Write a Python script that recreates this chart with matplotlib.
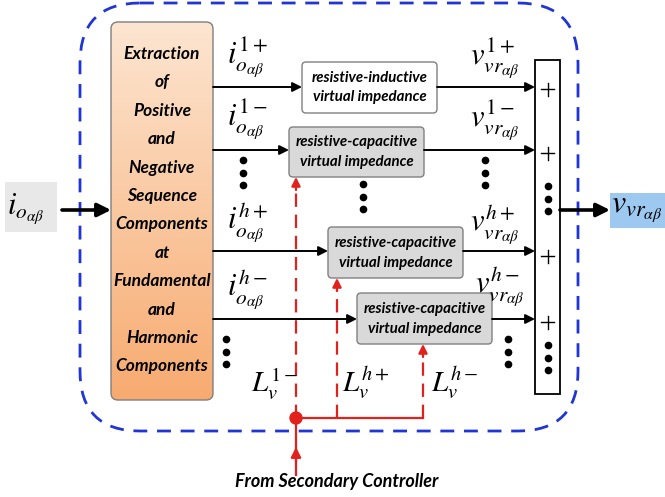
import numpy as np
import matplotlib.pyplot as plt
from matplotlib.patches import FancyBboxPatch, Rectangle, Circle

plt.rcParams['mathtext.fontset'] = 'stix'

# ---- diagram content ----
extract_words = ['Extraction', 'of', 'Positive', 'and', 'Negative', 'Sequence',
                 'Components', 'at', 'Fundamental', 'and', 'Harmonic', 'Components']
in_labels = [r'$i_{o_{\alpha\beta}}^{1+}$', r'$i_{o_{\alpha\beta}}^{1-}$',
             r'$i_{o_{\alpha\beta}}^{h+}$', r'$i_{o_{\alpha\beta}}^{h-}$']
out_labels = [r'$v_{vr_{\alpha\beta}}^{1+}$', r'$v_{vr_{\alpha\beta}}^{1-}$',
              r'$v_{vr_{\alpha\beta}}^{h+}$', r'$v_{vr_{\alpha\beta}}^{h-}$']
box_line1 = ['resistive-inductive', 'resistive-capacitive',
             'resistive-capacitive', 'resistive-capacitive']
box_line2 = ['virtual impedance'] * 4
box_fill = ['white', '#d9d9d9', '#d9d9d9', '#d9d9d9']
l_labels = [r'$L_v^{1-}$', r'$L_v^{h+}$', r'$L_v^{h-}$']
input_label = r'$i_{o_{\alpha\beta}}$'
output_label = r'$v_{vr_{\alpha\beta}}$'
bottom_label = 'From Secondary Controller'

# layout (pixel coords)
row_y = [87, 150, 251, 319]
box_x0 = [302, 289, 328, 357]
box_x1 = [437, 424, 463, 492]
box_top = [62, 127, 227, 293]
box_bot = [113, 177, 278, 344]
plus_y = [89, 153, 256, 322]
ctrl_x = [296, 337, 423]
ctrl_box = [1, 2, 3]

red = '#e3211c'
blue = '#1f35d6'
font = 'Lato'

fig = plt.figure(figsize=(6.65, 4.97), dpi=100)
ax = fig.add_axes([0, 0, 1, 1])
ax.set_xlim(0, 665)
ax.set_ylim(497, 0)
ax.axis('off')


def arrow(x0, y0, x1, y1, color='black', lw=1.4, ms=14):
    ax.annotate('', xy=(x1, y1), xytext=(x0, y0),
                arrowprops=dict(arrowstyle='-|>', color=color, lw=lw,
                                mutation_scale=ms, shrinkA=0, shrinkB=0))


def dots(x, y0, step=12.5):
    ax.plot([x] * 3, [y0 + i * step for i in range(3)], 'o', color='black',
            markersize=4.5, zorder=5)


# blue dashed outer boundary
outer = FancyBboxPatch((80, 3), 498, 428, boxstyle='round,pad=0,rounding_size=60',
                       fill=False, edgecolor=blue, lw=2.0, linestyle=(0, (5, 3.5)))
ax.add_patch(outer)

# orange extraction block with gradient
ob = FancyBboxPatch((111, 22), 102, 378, boxstyle='round,pad=0,rounding_size=7',
                    facecolor='none', edgecolor='#7f7f7f', lw=1.0, zorder=3)
ax.add_patch(ob)
c_top = np.array([0.99, 0.90, 0.82])
c_bot = np.array([0.97, 0.67, 0.44])
t = np.linspace(0, 1, 200)[:, None, None]
grad = c_top * (1 - t) + c_bot * t
im = ax.imshow(grad, extent=(111, 213, 400, 22), origin='upper', aspect='auto', zorder=2)
im.set_clip_path(ob)
for i, w in enumerate(extract_words):
    ax.text(162, 54 + i * 28.4, w, ha='center', va='center', fontsize=12.5,
            fontweight='bold', fontstyle='italic', family=font, zorder=4)

# input
ax.add_patch(Rectangle((5, 182), 52, 50, facecolor='#e8e8e8', edgecolor='none'))
ax.text(7, 209, input_label, ha='left', va='center', fontsize=22)
arrow(62, 210, 111, 210, lw=2.6, ms=20)

# rows
for k in range(4):
    arrow(213, row_y[k], box_x0[k], row_y[k])
    ax.add_patch(FancyBboxPatch((box_x0[k], box_top[k]), box_x1[k] - box_x0[k],
                                box_bot[k] - box_top[k],
                                boxstyle='round,pad=0,rounding_size=4',
                                facecolor=box_fill[k], edgecolor='#808080', lw=1.0))
    cx = (box_x0[k] + box_x1[k]) / 2
    cy = (box_top[k] + box_bot[k]) / 2
    ax.text(cx, cy - 10, box_line1[k], ha='center', va='center', fontsize=10.8,
            fontweight='bold', fontstyle='italic', family=font)
    ax.text(cx, cy + 10, box_line2[k], ha='center', va='center', fontsize=10.8,
            fontweight='bold', fontstyle='italic', family=font)
    arrow(box_x1[k], row_y[k], 535, row_y[k])

in_lab_y = [58, 120, 222, 290]
for lab, y in zip(in_labels, in_lab_y):
    ax.text(227, y, lab, ha='left', va='center', fontsize=22)
out_lab_x = [470, 470, 470, 475]
out_lab_y = [59, 121, 224, 287]
for lab, x, y in zip(out_labels, out_lab_x, out_lab_y):
    ax.text(x, y, lab, ha='left', va='center', fontsize=22)

# continuation dots
dots(243, 160)
dots(363, 184)
dots(485, 160)
dots(226, 339)
dots(508, 339)

# summing bar
ax.add_patch(Rectangle((535, 60), 25, 334, facecolor='white', edgecolor='black', lw=1.3))
for y in plus_y:
    ax.plot([541, 554], [y, y], color='black', lw=1.0)
    ax.plot([547.5, 547.5], [y - 6.5, y + 6.5], color='black', lw=1.0)
dots(547.5, 186)
dots(547.5, 345)

# output
arrow(560, 210, 610, 210, lw=2.6, ms=20)
ax.add_patch(Rectangle((610, 193), 60, 35, facecolor='#9dc8f0', edgecolor='none'))
ax.text(611, 208, output_label, ha='left', va='center', fontsize=23)

# red control signals
bus_y = 418
ax.plot([ctrl_x[0], ctrl_x[-1]], [bus_y, bus_y], color=red, lw=1.6)
for x, kb in zip(ctrl_x, ctrl_box):
    top = box_bot[kb]
    ax.plot([x, x], [bus_y, top + 12], color=red, lw=1.6, linestyle=(0, (6, 3.5)))
    arrow(x, top + 13, x, top, color=red, lw=1.6, ms=13)
ax.plot([ctrl_x[0], ctrl_x[0]], [475, bus_y], color=red, lw=1.6)
arrow(ctrl_x[0], 462, ctrl_x[0], 447, color=red, lw=1.6, ms=15)
ax.add_patch(Circle((ctrl_x[0], bus_y), 6, color=red, zorder=6))

l_lab_x = [251, 342, 431]
for lab, x in zip(l_labels, l_lab_x):
    ax.text(x, 383, lab, ha='left', va='center', fontsize=21)

ax.text(337, 481, bottom_label, ha='center', va='center', fontsize=13,
        fontweight='bold', fontstyle='italic', family=font)

fig.savefig('out.png', dpi=100)
